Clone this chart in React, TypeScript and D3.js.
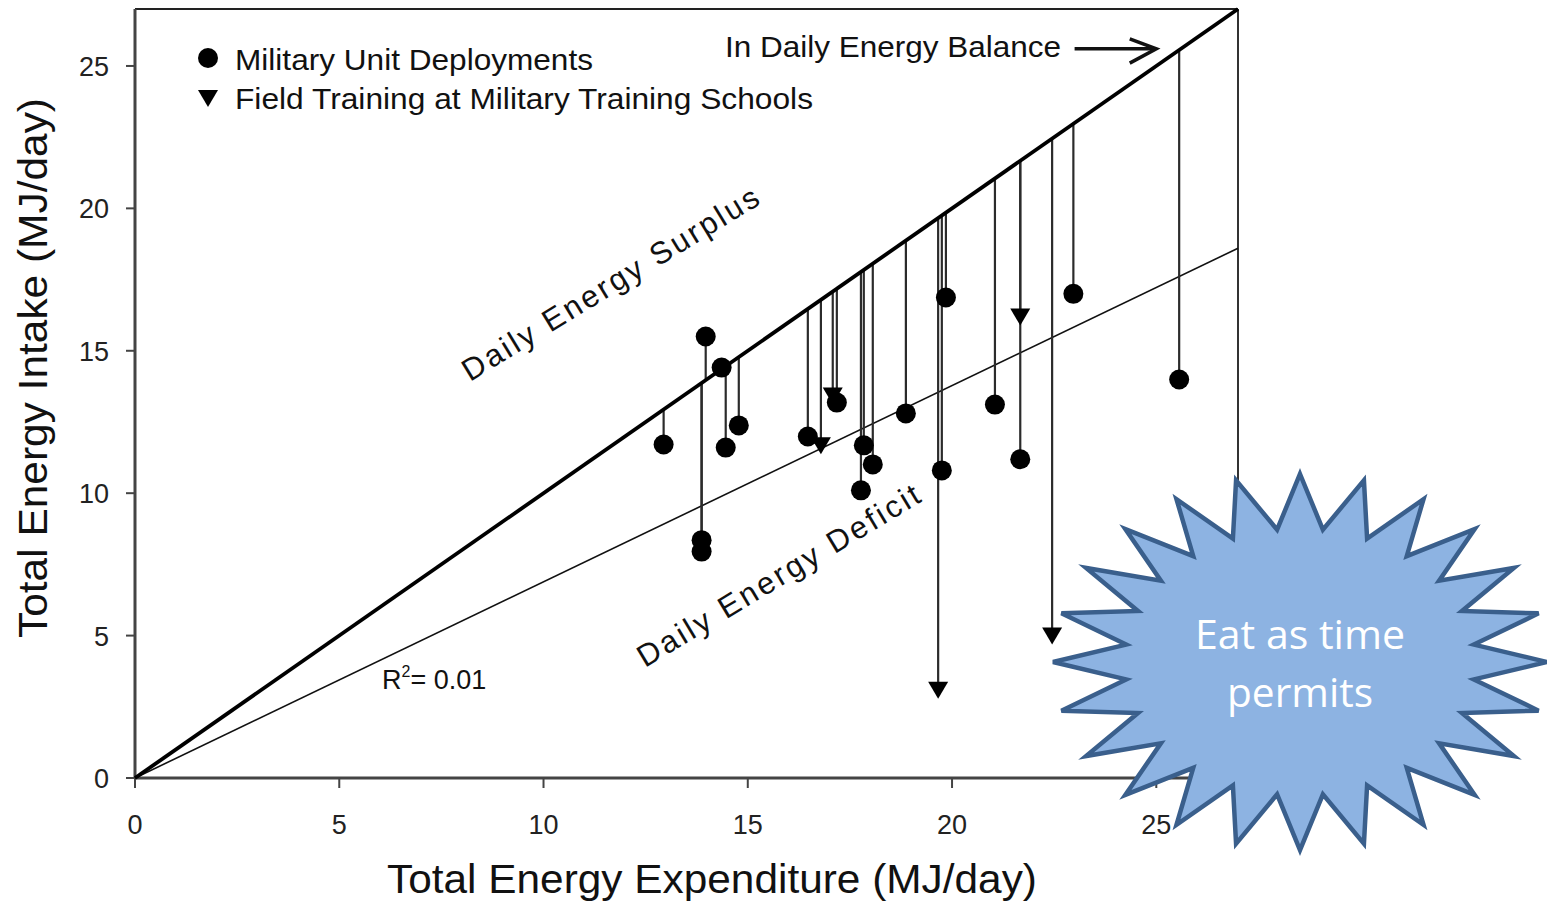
import React from 'react';
import * as d3 from 'd3';

// military unit deployments: total energy expenditure vs intake (MJ/day)
const deployTee = [12.94, 13.97, 14.36, 14.46, 14.78, 13.87, 13.87, 16.47, 17.18, 17.84, 17.77, 18.06, 18.87, 19.85, 19.75, 21.05, 21.67, 22.97, 25.56];
const deployTei = [11.71, 15.5, 14.41, 11.6, 12.38, 8.35, 7.95, 11.99, 13.18, 11.68, 10.1, 11.01, 12.8, 16.87, 10.8, 13.11, 11.19, 17.0, 13.99];

// field training at military training schools
const trainTee = [16.79, 17.08, 19.66, 21.67, 22.45];
const trainTei = [11.68, 13.43, 3.1, 16.2, 5.0];

const xTicks = [0, 5, 10, 15, 20, 25];
const yTicks = [0, 5, 10, 15, 20, 25];
const balanceX = [0, 27];
const regressionX = [0, 27];
const regressionY = [0, 18.6];

const W = 1547;
const H = 904;
const FONT = 'Liberation Sans, Arial, sans-serif';

const x = d3.scaleLinear().domain([0, 27]).range([135, 1238]);
const y = d3.scaleLinear().domain([0, 27]).range([778, 9]);

// 24-point starburst callout
const burst = (() => {
  const cx = 1300, cy = 662, rx = 247, ry = 188, inner = 0.71, n = 24;
  const pts: [number, number][] = [];
  for (let i = 0; i < n * 2; i++) {
    const a = -Math.PI / 2 + (i * Math.PI) / n;
    const k = i % 2 === 0 ? 1 : inner;
    pts.push([cx + Math.cos(a) * rx * k, cy + Math.sin(a) * ry * k]);
  }
  return d3.line().curve(d3.curveLinearClosed)(pts) as string;
})();

const tri = (cx: number, cy: number) => `M${cx - 10},${cy - 8}L${cx + 10},${cy - 8}L${cx},${cy + 9}Z`;

export default function App() {
  const deploy = deployTee.map((d, i) => ({ tee: d, tei: deployTei[i] }));
  const train = trainTee.map((d, i) => ({ tee: d, tei: trainTei[i] }));
  const all = [...deploy, ...train];

  return (
    <svg width={W} height={H} style={{ position: 'absolute', left: 0, top: 0, background: '#fff' }} fontFamily={FONT}>
      {/* frame */}
      <line x1={x(0)} x2={x(27)} y1={y(27)} y2={y(27)} stroke="#222" strokeWidth={2} />
      <line x1={x(27)} x2={x(27)} y1={y(27)} y2={y(0)} stroke="#333" strokeWidth={2} />
      <line x1={x(0)} x2={x(27)} y1={y(0)} y2={y(0)} stroke="#444" strokeWidth={3} />
      <line x1={x(0)} x2={x(0)} y1={y(0)} y2={y(27)} stroke="#444" strokeWidth={3} />

      {/* ticks */}
      {xTicks.map(t => (
        <g key={'x' + t}>
          <line x1={x(t)} x2={x(t)} y1={y(0)} y2={y(0) + 10} stroke="#444" strokeWidth={2} />
          <text x={x(t)} y={834} fontSize={27} textAnchor="middle" fill="#222">{t}</text>
        </g>
      ))}
      {yTicks.map(t => (
        <g key={'y' + t}>
          <line x1={x(0) - 9} x2={x(0)} y1={y(t)} y2={y(t)} stroke="#444" strokeWidth={2} />
          <text x={109} y={y(t) + 10} fontSize={27} textAnchor="end" fill="#222">{t}</text>
        </g>
      ))}

      {/* axis titles */}
      <text x={712} y={893} fontSize={41} textAnchor="middle" textLength={650} lengthAdjust="spacingAndGlyphs" fill="#111">
        Total Energy Expenditure (MJ/day)
      </text>
      <text transform="translate(47,368) rotate(-90)" fontSize={41} textAnchor="middle" textLength={540} lengthAdjust="spacingAndGlyphs" fill="#111">
        Total Energy Intake (MJ/day)
      </text>

      {/* regression line */}
      <line x1={x(regressionX[0])} y1={y(regressionY[0])} x2={x(regressionX[1])} y2={y(regressionY[1])} stroke="#111" strokeWidth={1.6} />

      {/* stems from energy balance line to each observation */}
      {all.map((d, i) => (
        <line key={'s' + i} x1={x(d.tee)} x2={x(d.tee)} y1={y(d.tee)} y2={y(d.tei)} stroke="#2b2b2b" strokeWidth={2.2} />
      ))}

      {/* energy balance line (1:1) */}
      <line x1={x(balanceX[0])} y1={y(balanceX[0])} x2={x(balanceX[1])} y2={y(balanceX[1])} stroke="#000" strokeWidth={3.8} />

      {/* markers */}
      {deploy.map((d, i) => (
        <circle key={'c' + i} cx={x(d.tee)} cy={y(d.tei)} r={10} fill="#000" />
      ))}
      {train.map((d, i) => (
        <path key={'t' + i} d={tri(x(d.tee), y(d.tei))} fill="#000" />
      ))}

      {/* legend */}
      <circle cx={208} cy={58} r={10} fill="#000" />
      <text x={235} y={70} fontSize={30} textLength={358} lengthAdjust="spacingAndGlyphs" fill="#111">Military Unit Deployments</text>
      <path d={tri(208, 98)} fill="#000" />
      <text x={235} y={109} fontSize={30} textLength={578} lengthAdjust="spacingAndGlyphs" fill="#111">Field Training at Military Training Schools</text>

      {/* annotations */}
      <text x={725} y={57} fontSize={30} textLength={336} lengthAdjust="spacingAndGlyphs" fill="#111">In Daily Energy Balance</text>
      <line x1={x(23.0)} x2={x(24.95)} y1={y(25.6)} y2={y(25.6)} stroke="#111" strokeWidth={3.5} />
      <polyline points={`${x(24.35)},${y(25.95)} ${x(25.0)},${y(25.6)} ${x(24.35)},${y(25.1)}`} fill="none" stroke="#111" strokeWidth={3.5} />

      <text transform={`translate(470,382) rotate(-31.5)`} fontSize={31} textLength={342} lengthAdjust="spacing" fill="#111">
        Daily Energy Surplus
      </text>
      <text transform={`translate(645,668) rotate(-31)`} fontSize={31} textLength={324} lengthAdjust="spacing" fill="#111">
        Daily Energy Deficit
      </text>
      <text x={382} y={689} fontSize={27} fill="#111">
        R<tspan fontSize={16} dy={-12}>2</tspan><tspan dy={12}>= 0.01</tspan>
      </text>

      {/* callout */}
      <path d={burst} fill="#8DB3E2" stroke="#3A5F8C" strokeWidth={4.5} strokeLinejoin="miter" />
      <text x={1300} y={649} fontSize={40} fontFamily="Open Sans, Lato, sans-serif" textAnchor="middle" fill="#fff" textLength={210} lengthAdjust="spacingAndGlyphs">
        Eat as time
      </text>
      <text x={1300} y={707} fontSize={40} fontFamily="Open Sans, Lato, sans-serif" textAnchor="middle" fill="#fff" textLength={146} lengthAdjust="spacingAndGlyphs">
        permits
      </text>
    </svg>
  );
}
